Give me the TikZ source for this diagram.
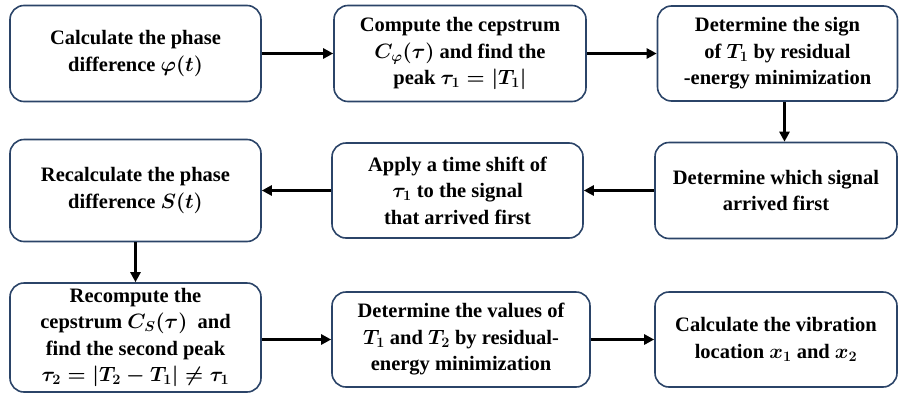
\documentclass[tikz,border=0pt]{standalone}
\usepackage{amsmath,bm}
\usepackage{fontspec}
\setmainfont{Liberation Serif}
\usetikzlibrary{arrows.meta}
\definecolor{boxline}{HTML}{2B4468}
\tikzset{
  stepbox/.style={draw=boxline, line width=1.6pt, rounded corners=14pt,
    fill=white, align=center, inner sep=1pt,
    font=\fontsize{20.5}{26.5}\selectfont\bfseries\boldmath},
  flow/.style={line width=2.8pt, -{Triangle[length=10pt,width=10pt]}},
}
\begin{document}
\begin{tikzpicture}[x=1pt,y=-1pt]
\useasboundingbox (0,0) rectangle (902,394);
% first row
\node[stepbox, minimum width=251pt, minimum height=96pt] (b1) at (135.5,53.5)
  {Calculate the phase\\ difference $\varphi(t)$};
\node[stepbox, minimum width=252pt, minimum height=96pt] (b2) at (460,53.5)
  {Compute the cepstrum\\ $C_\varphi(\tau)$ and find the\\ peak $\tau_1=|T_1|$};
\node[stepbox, minimum width=240pt, minimum height=95pt] (b3) at (777.5,53.5)
  {Determine the sign\\ of $T_1$ by residual\\ -energy minimization};
% second row
\node[stepbox, minimum width=251pt, minimum height=102pt] (b4) at (135.5,190.5)
  {Recalculate the phase\\ difference $S(t)$};
\node[stepbox, minimum width=251pt, minimum height=95pt] (b5) at (457.5,190.5)
  {Apply a time shift of\\ $\tau_1$ to the signal\\ that arrived first};
\node[stepbox, minimum width=242pt, minimum height=96pt] (b6) at (776,190.5)
  {Determine which signal\\ arrived first};
% third row
\node[stepbox, minimum width=251pt, minimum height=109pt] (b7) at (135.5,337.5)
  {Recompute the\\ cepstrum $C_S(\tau)$\ \ and\\ find the second peak\\ $\tau_2=|T_2-T_1|\neq\tau_1$};
\node[stepbox, minimum width=258pt, minimum height=95pt] (b8) at (461,339.5)
  {Determine the values of\\ $T_1$ and $T_2$ by residual-\\ energy minimization};
\node[stepbox, minimum width=242pt, minimum height=95pt] (b9) at (776,339.5)
  {Calculate the vibration\\ location $x_1$ and $x_2$};
% connectors
\draw[flow] (b1) -- (b2);
\draw[flow] (b2) -- (b3);
\draw[flow] ([xshift=7pt]b3.south) -- ([xshift=7pt]b3.south |- b6.north);
\draw[flow] (b6) -- (b5);
\draw[flow] (b5) -- (b4);
\draw[flow] (b4) -- (b7);
\draw[flow] (b7.east |- b8) -- (b8);
\draw[flow] (b8) -- (b9);
\end{tikzpicture}
\end{document}
